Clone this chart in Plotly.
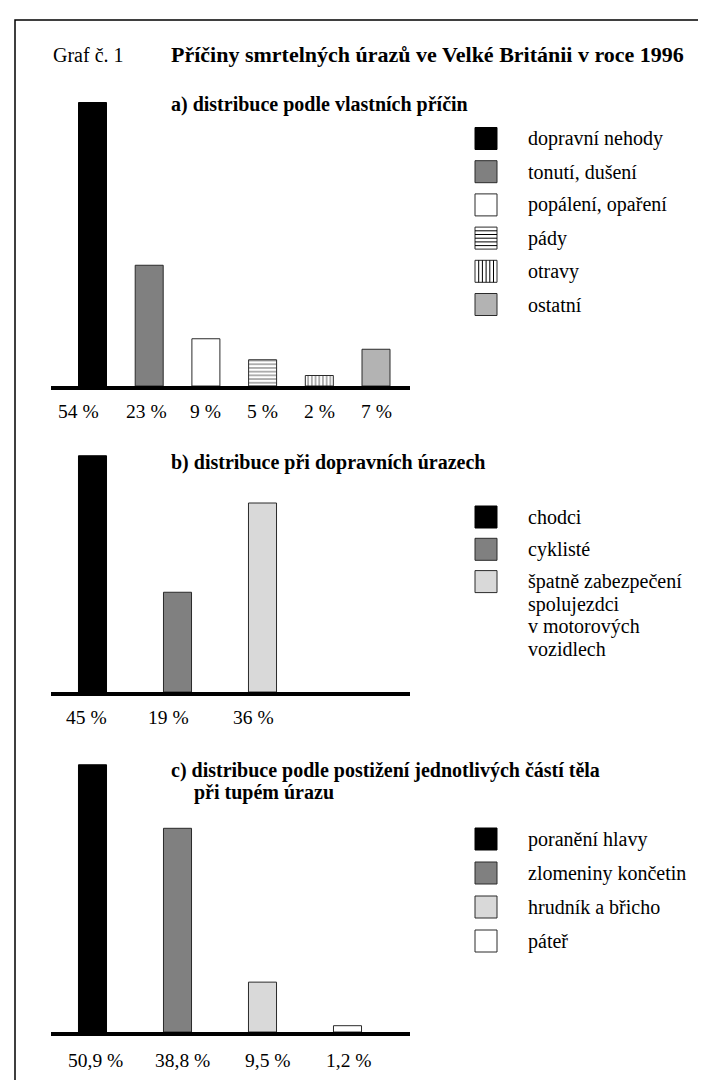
import plotly.graph_objects as go

W, H = 706, 1080

# ---------------- data ----------------
a_categories = ["dopravní nehody", "tonutí, dušení", "popálení, opaření", "pády", "otravy", "ostatní"]
a_values = [54, 23, 9, 5, 2, 7]
a_labels = ["54 %", "23 %", "9 %", "5 %", "2 %", "7 %"]

b_categories = ["chodci", "cyklisté", "špatně zabezpečení<br>spolujezdci<br>v motorových<br>vozidlech"]
b_values = [45, 19, 36]
b_labels = ["45 %", "19 %", "36 %"]

c_categories = ["poranění hlavy", "zlomeniny končetin", "hrudník a břicho", "páteř"]
c_values = [50.9, 38.8, 9.5, 1.2]
c_labels = ["50,9 %", "38,8 %", "9,5 %", "1,2 %"]

graf_label = "Graf č. 1"
main_title = "Příčiny smrtelných úrazů ve Velké Británii v roce 1996"
a_title = "a) distribuce podle vlastních příčin"
b_title = "b) distribuce při dopravních úrazech"
c_title = ["c) distribuce podle postižení jednotlivých částí těla", "při tupém úrazu"]

# ---------------- styles ----------------
a_fill = ["#000000", "#808080", "#ffffff", "#ffffff", "#ffffff", "#b3b3b3"]
a_pattern = ["", "", "", "-", "|", ""]
a_label_dx = [-14, -3, 0, 0, 0, 0]
b_fill = ["#000000", "#808080", "#d9d9d9"]
b_pattern = ["", "", ""]
b_label_dx = [-6, -9, -9]
c_fill = ["#000000", "#808080", "#d9d9d9", "#ffffff"]
c_pattern = ["", "", "", ""]
c_label_dx = [3, 5, 5, 1]

FONT = "Liberation Serif"
SCALE = 5.25  # px per percent (shared by all panels)
X0, X1 = 43, 402

def fx(x):
    return x / W

def fy(y):
    return 1 - y / H

panels = [
    dict(cats=a_categories, vals=a_values, labels=a_labels, fill=a_fill, pat=a_pattern,
         dx=a_label_dx, lsize=19.5, ldy=-25,
         base=378, top=88, slot=56.7, width=0.494, first=41.5),
    dict(cats=b_categories, vals=b_values, labels=b_labels, fill=b_fill, pat=b_pattern,
         dx=b_label_dx, lsize=19.5, ldy=-25,
         base=684, top=440, slot=85, width=0.33, first=41.5),
    dict(cats=c_categories, vals=c_values, labels=c_labels, fill=c_fill, pat=c_pattern,
         dx=c_label_dx, lsize=19.5, ldy=-28,
         base=1024, top=750, slot=85, width=0.33, first=41.5),
]

fig = go.Figure()
layout = dict(
    width=W, height=H, autosize=False,
    margin=dict(l=0, r=0, t=0, b=0),
    paper_bgcolor="white", plot_bgcolor="rgba(0,0,0,0)",
    showlegend=False, barmode="overlay",
    font=dict(family=FONT, color="black", size=19),
)

annotations = []
shapes = []

for i, p in enumerate(panels):
    sfx = "" if i == 0 else str(i + 1)
    xa, ya = "x" + sfx, "y" + sfx
    for cat, val, lab, dx, fill, pat in zip(p["cats"], p["vals"], p["labels"], p["dx"],
                                             p["fill"], p["pat"]):
        marker = dict(color=fill,
                      line=dict(color="black" if fill == "#000000" else "#2a2a2a", width=1))
        if pat:
            marker["pattern"] = dict(shape=pat, fgcolor="black", bgcolor="white",
                                     size=3.7, solidity=0.32, fillmode="overlay")
        fig.add_trace(go.Bar(
            x=[cat], y=[val], xaxis=xa, yaxis=ya,
            width=p["width"], marker=marker, hoverinfo="skip",
        ))
        annotations.append(dict(
            x=cat, y=0, xref=xa, yref=ya, text=lab, showarrow=False,
            xanchor="center", yanchor="middle", xshift=dx, yshift=p["ldy"],
            font=dict(family=FONT, size=p["lsize"], color="black"),
        ))
    left = -p["first"] / p["slot"]
    right = left + (X1 - X0) / p["slot"]
    layout["xaxis" + sfx] = dict(
        domain=[fx(X0), fx(X1)], anchor=ya, type="category",
        categoryorder="array", categoryarray=p["cats"],
        range=[left, right],
        showline=True, linecolor="black", linewidth=4,
        ticks="", showgrid=False, zeroline=False, showticklabels=False,
        fixedrange=True,
    )
    layout["yaxis" + sfx] = dict(
        domain=[fy(p["base"]), fy(p["top"])], anchor=xa,
        range=[0, (p["base"] - p["top"]) / SCALE],
        visible=False, fixedrange=True,
    )

fig.update_layout(**layout)

def text(x, y, s, size=20, bold=False, anchor="left"):
    annotations.append(dict(
        x=fx(x), y=fy(y), xref="paper", yref="paper",
        text=("<b>%s</b>" % s) if bold else s, showarrow=False,
        xanchor=anchor, yanchor="middle", xshift=-2,
        font=dict(family=FONT, size=size, color="black"),
    ))

# frame
shapes.append(dict(type="rect", xref="paper", yref="paper",
                   x0=fx(7), x1=fx(730), y0=fy(1100), y1=fy(12),
                   line=dict(color="black", width=1.5), fillcolor="rgba(0,0,0,0)"))

# titles
text(45, 47, graf_label, size=20)
text(163, 47, main_title, size=22, bold=True)
text(163, 97, a_title, size=20, bold=True)
text(163, 454, b_title, size=20, bold=True)
text(163, 762, c_title[0], size=20, bold=True)
text(186, 784, c_title[1], size=20, bold=True)

# legends
def legend_square(cy, fill, pat):
    x0, x1 = 467, 489
    y0, y1 = cy - 11, cy + 11
    line_col = "black" if fill == "#000000" else "#2a2a2a"
    shapes.append(dict(type="rect", xref="paper", yref="paper",
                       x0=fx(x0), x1=fx(x1), y0=fy(y1), y1=fy(y0),
                       fillcolor=fill, line=dict(color=line_col, width=1)))
    step = 3.7
    if pat == "-":
        y = y0 + step
        while y < y1 - 1:
            shapes.append(dict(type="line", xref="paper", yref="paper",
                               x0=fx(x0), x1=fx(x1), y0=fy(y), y1=fy(y),
                               line=dict(color="black", width=1)))
            y += step
    elif pat == "|":
        x = x0 + step
        while x < x1 - 1:
            shapes.append(dict(type="line", xref="paper", yref="paper",
                               x0=fx(x), x1=fx(x), y0=fy(y0), y1=fy(y1),
                               line=dict(color="black", width=1)))
            x += step

legend_rows = [
    (a_categories, a_fill, a_pattern, 130.5, 33.2),
    (b_categories, b_fill, b_pattern, 509, 32.3),
    (c_categories, c_fill, c_pattern, 831, 34),
]
for cats, fills, pats, y_start, step in legend_rows:
    for k, (cat, fill, pat) in enumerate(zip(cats, fills, pats)):
        cy = y_start + k * step
        legend_square(cy, fill, pat)
        for j, line in enumerate(cat.split("<br>")):
            text(520, cy + j * 22.5, line, size=20)

fig.update_layout(annotations=annotations, shapes=shapes)
fig.write_html("out.html")
